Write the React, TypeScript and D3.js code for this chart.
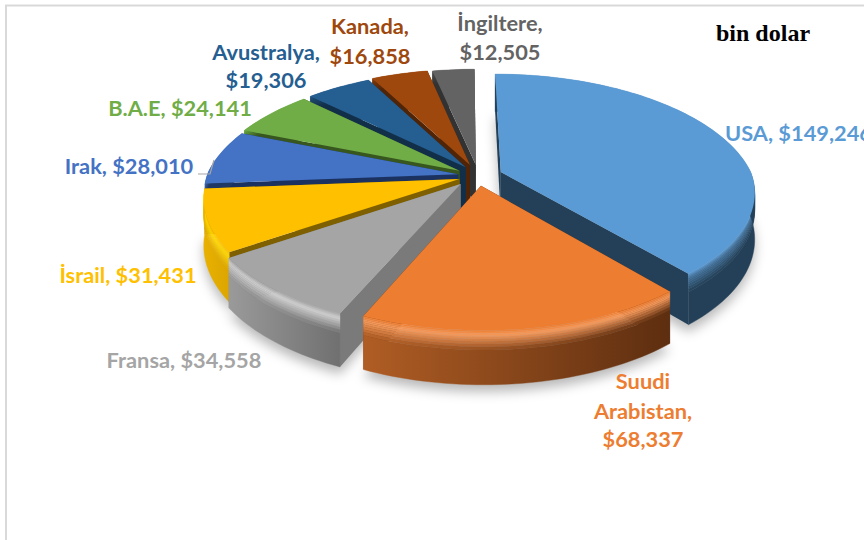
import React from "react";
import * as d3 from "d3";

// ---------- data ----------
const countries = ["USA", "Suudi Arabistan", "Fransa", "İsrail", "Irak", "B.A.E", "Avustralya", "Kanada", "İngiltere"];
const values = [149246, 68337, 34558, 31431, 28010, 24141, 19306, 16858, 12505];
const tickLabels = ["$149,246", "$68,337", "$34,558", "$31,431", "$28,010", "$24,141", "$19,306", "$16,858", "$12,505"];

// ---------- styles ----------
const faceColors = ["#5b9bd5", "#ed7d31", "#a5a5a5", "#ffc000", "#4472c4", "#70ad47", "#255e91", "#9e480e", "#636363"];
const rimColors = ["#3f6f99", "#f59a5c", "#cfcfcf", "#ffd800", "#3a62a8", "#5f9a3a", "#1d4a72", "#7a3809", "#4a4a4a"];
const wallStart = ["#234058", "#b05d24", "#9a9a9a", "#e8b000", "#1f3864", "#38571f", "#122f49", "#4f2407", "#323232"];
const wallEnd = ["#234058", "#5d2e10", "#707070", "#dca600", "#1f3864", "#38571f", "#122f49", "#4f2407", "#323232"];
const cutColors = ["#234058", "#5d2e10", "#7a7a7a", "#7f6000", "#1b3260", "#38571f", "#122f49", "#4f2407", "#323232"];
const explodeU = [0.135, 0.055, -0.025, -0.03, -0.035, -0.03, -0.005, 0.012, 0.036];
const explodeV = [0, -0.115, -0.1, -0.06, -0.02, 0.01, 0.04, 0.06, 0.06];
const drawOrder = [8, 7, 6, 5, 4, 3, 2, 0, 1];

const W = 864, H = 540;
const CX = 467, CY = 172, K = 250, TILT = 0.47, PERSP_FAR = 0.2, PERSP_NEAR = 0.155, DEPTH = 45;

const xScale = d3.scaleLinear().domain([0, 1]).range([CX, CX + K]);
const yScale = d3.scaleLinear().domain([0, 1]).range([CY, CY - K * TILT]);
type P = [number, number];
const project = (u: number, v: number, depth = 0): P => {
  const f = 1 / (1 + (v > 0 ? PERSP_FAR : PERSP_NEAR) * v);
  return [xScale(u * f), yScale(v * f) + depth * DEPTH * f];
};
const line = d3.line<P>().x((d) => d[0]).y((d) => d[1]);

const pie = d3.pie<number>().sort(null).startAngle(0).endAngle(2 * Math.PI);
const arcs = pie(values);

const bands = [0, 0.03, 0.06, 0.09, 0.12, 0.16, 0.2, 0.25, 0.3, 0.36, 1];
const STEP = (1.5 * Math.PI) / 180;

function Slice({ i }: { i: number }) {
  const a = arcs[i];
  const u0 = explodeU[i], v0 = explodeV[i];
  const n = Math.max(2, Math.ceil((a.endAngle - a.startAngle) / STEP));
  const angles = d3.range(n + 1).map((k) => a.startAngle + ((a.endAngle - a.startAngle) * k) / n);
  const rim = (ang: number, depth = 0) => project(u0 + Math.sin(ang), v0 + Math.cos(ang), depth);
  const apex = (depth = 0) => project(u0, v0, depth);
  const colorAt = (t: number, wall: string) => {
    if (t < 0.09) return d3.interpolateRgb(faceColors[i], rimColors[i])(t / 0.09);
    if (t < 0.36) return d3.interpolateRgb(rimColors[i], wall)((t - 0.09) / 0.27);
    return wall;
  };
  const cut = (ang: number) =>
    line([apex(0), rim(ang, 0), rim(ang, 1), apex(1)]) + "Z";
  const gx1 = rim(a.startAngle)[0];
  const gx2 = rim(a.endAngle)[0];
  const ribbons = d3.range(bands.length - 1).map((b) => {
    const t = (bands[b] + bands[b + 1]) / 2;
    const top = angles.map((x) => rim(x, bands[b]));
    const bottom = angles.map((x) => rim(x, bands[b + 1])).reverse();
    const id = `wall-${i}-${b}`;
    return (
      <g key={b}>
        <linearGradient id={id} gradientUnits="userSpaceOnUse" x1={gx1} x2={gx2} y1={0} y2={0}>
          <stop offset="0" stopColor={colorAt(t, wallEnd[i])} />
          <stop offset="1" stopColor={colorAt(t, wallStart[i])} />
        </linearGradient>
        <path d={line([...top, ...bottom]) + "Z"} fill={`url(#${id})`} stroke={`url(#${id})`} strokeWidth={0.4} />
      </g>
    );
  });
  const face = line([apex(0), ...angles.map((x) => rim(x, 0))]) + "Z";
  return (
    <g data-country={countries[i]}>
      <path d={cut(a.startAngle)} fill={cutColors[i]} />
      <path d={cut(a.endAngle)} fill={cutColors[i]} />
      {ribbons}
      <path d={face} fill={faceColors[i]} />
    </g>
  );
}

function Shadow({ i }: { i: number }) {
  const a = arcs[i];
  const u0 = explodeU[i], v0 = explodeV[i];
  const n = Math.ceil((a.endAngle - a.startAngle) / STEP);
  const pts: P[] = [project(u0, v0, 1)];
  for (let k = 0; k <= n; k++) {
    const ang = a.startAngle + ((a.endAngle - a.startAngle) * k) / n;
    pts.push(project(u0 + Math.sin(ang), v0 + Math.cos(ang), 1));
  }
  return <path d={line(pts) + "Z"} fill="#000" fillOpacity={0.28} transform="translate(0,7)" />;
}

const labelFont = "Lato, 'Open Sans', sans-serif";
type L = { i: number; lines: string[]; x: number; ys: number[]; anchor: "start" | "middle" };
const labelLines: L[] = [
  { i: 0, lines: [`${countries[0]}, ${tickLabels[0]}`], x: 725, ys: [141], anchor: "start" },
  { i: 1, lines: ["Suudi", "Arabistan,", tickLabels[1]], x: 643, ys: [389, 419, 447], anchor: "middle" },
  { i: 2, lines: [`${countries[2]}, ${tickLabels[2]}`], x: 184, ys: [368], anchor: "middle" },
  { i: 3, lines: [`${countries[3]}, ${tickLabels[3]}`], x: 128, ys: [283], anchor: "middle" },
  { i: 4, lines: [`${countries[4]}, ${tickLabels[4]}`], x: 129, ys: [174], anchor: "middle" },
  { i: 5, lines: [`${countries[5]}, ${tickLabels[5]}`], x: 180, ys: [116], anchor: "middle" },
  { i: 6, lines: [`${countries[6]},`, tickLabels[6]], x: 266, ys: [60, 88], anchor: "middle" },
  { i: 7, lines: [`${countries[7]},`, tickLabels[7]], x: 370, ys: [34, 64], anchor: "middle" },
  { i: 8, lines: [`${countries[8]},`, tickLabels[8]], x: 500, ys: [31, 60], anchor: "middle" },
];

export default function App() {
  return (
    <svg
      width={W}
      height={H}
      viewBox={`0 0 ${W} ${H}`}
      style={{ position: "absolute", left: 0, top: 0, background: "#fff" }}
    >
      <defs>
        <filter id="blur" x="-20%" y="-20%" width="140%" height="140%">
          <feGaussianBlur stdDeviation={6} />
        </filter>
      </defs>
      <path d={`M6,${H}V5.5H${W}`} fill="none" stroke="#d9d9d9" strokeWidth={2} />
      <g filter="url(#blur)">
        {[0, 1, 2, 3].map((i) => <Shadow key={i} i={i} />)}
      </g>
      {drawOrder.map((i) => <Slice key={i} i={i} />)}
      <path d="M198,174H210L214,160" fill="none" stroke="#a6a6a6" strokeWidth={1.2} />
      {labelLines.map((l) =>
        l.lines.map((t, k) => (
          <text
            key={`${l.i}-${k}`}
            x={l.x}
            y={l.ys[k]}
            textAnchor={l.anchor}
            fontFamily={labelFont}
            fontWeight={700}
            fontSize={21.8}
            fill={faceColors[l.i]}
          >
            {t}
          </text>
        ))
      )}
      <text x={716} y={41} fontFamily="'Liberation Serif', serif" fontWeight={700} fontSize={24} fill="#000">
        bin dolar
      </text>
    </svg>
  );
}
